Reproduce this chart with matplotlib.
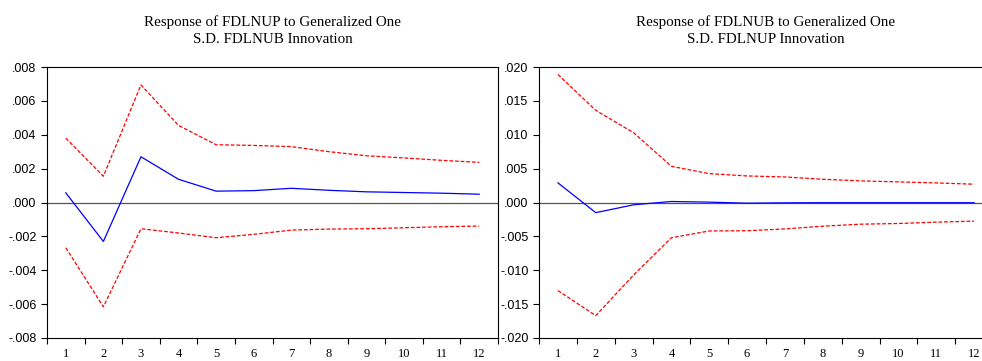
import matplotlib
matplotlib.use("Agg")
import matplotlib.pyplot as plt
import numpy as np

periods = np.arange(1, 13)

# Response of FDLNUP to FDLNUB
resp_p = [0.00057, -0.0023, 0.0027, 0.00137, 0.00067, 0.0007, 0.00084, 0.00072, 0.00063, 0.00059, 0.00055, 0.00049]
upper_p = [0.0038, 0.00155, 0.00694, 0.00455, 0.00341, 0.00337, 0.0033, 0.003, 0.00276, 0.00263, 0.00249, 0.00237]
lower_p = [-0.00267, -0.00616, -0.00155, -0.0018, -0.00208, -0.00188, -0.00163, -0.00157, -0.00155, -0.00149, -0.00143, -0.00139]

# Response of FDLNUB to FDLNUP
resp_b = [0.0029, -0.0015, -0.00034, 0.00015, 0.00005, -0.0001, -0.00005, -0.00003, -0.00003, -0.00003, -0.00003, -0.00003]
upper_b = [0.0189, 0.0136, 0.0103, 0.00534, 0.00426, 0.00392, 0.00377, 0.00343, 0.00319, 0.00304, 0.00289, 0.0027]
lower_b = [-0.013, -0.0167, -0.0107, -0.0052, -0.0042, -0.00417, -0.0039, -0.0035, -0.0032, -0.0031, -0.0029, -0.00275]

titles = ["Response of FDLNUP to Generalized One\nS.D. FDLNUB Innovation",
          "Response of FDLNUB to Generalized One\nS.D. FDLNUP Innovation"]

W, H = 982, 361
fig = plt.figure(figsize=(W / 100, H / 100), dpi=100)

def fmt(v, nd):
    s = ("%." + str(nd) + "f") % v
    s = s.replace("0.", ".")
    if abs(v) < 1e-12:
        s = "." + "0" * nd
    return s

def panel(left, right, resp, up, lo, lim, step, title):
    ax = fig.add_axes([left / W, 1 - 338 / H, (right - left) / W, (338 - 67) / H])
    ax.plot(periods, up, color="red", lw=0.9, ls=(0, (3, 1.5)))
    ax.plot(periods, lo, color="red", lw=0.9, ls=(0, (3, 1.5)))
    ax.plot(periods, resp, color="blue", lw=0.9)
    ax.axhline(0, color="#555555", lw=0.9, zorder=0)
    ax.set_xlim(0.5, 12.5)
    ax.set_ylim(-lim, lim)
    yt = np.arange(-lim, lim + step / 2, step)
    ax.set_yticks(yt)
    ax.set_yticklabels([fmt(v, 3) for v in yt], family="Liberation Sans", fontsize=9)
    ax.set_xticks(np.arange(0.5, 13, 1.0))
    ax.set_xticklabels([])
    ax.set_xticks(periods, minor=True)
    ax.set_xticklabels([str(p) for p in periods], minor=True, family="Liberation Serif", fontsize=9)
    ax.tick_params(axis="x", which="minor", length=0, pad=7)
    ax.tick_params(axis="both", which="major", direction="out", length=4, width=0.8)
    for s in ax.spines.values():
        s.set_linewidth(0.8)
    fig.text((left + right) / 2 / W, 1 - 15 / H, title,
             ha="center", va="top", family="Liberation Serif", fontsize=10.8, linespacing=1.45)
    return ax

panel(47, 498, resp_p, upper_p, lower_p, 0.008, 0.002, titles[0])
panel(539, 993, resp_b, upper_b, lower_b, 0.020, 0.005, titles[1])

fig.savefig("out.png", dpi=100)
